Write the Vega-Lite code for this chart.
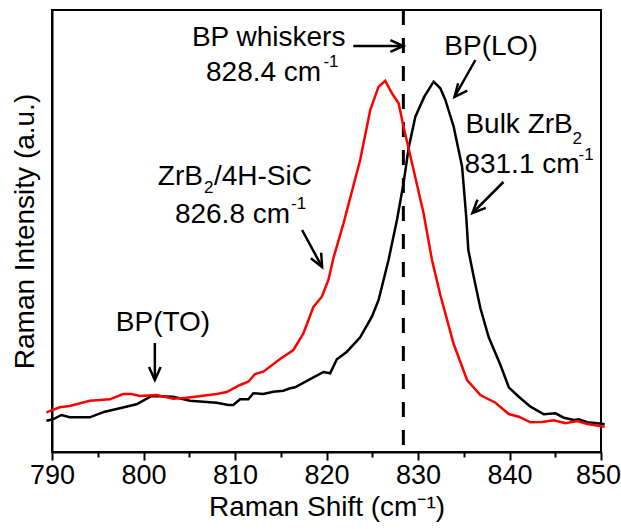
{
  "$schema": "https://vega.github.io/schema/vega-lite/v6.json",
  "width": 549,
  "height": 442,
  "autosize": "none",
  "padding": {"left": 52, "top": 10, "right": 20, "bottom": 77},
  "background": "white",
  "config": {
    "view": {"stroke": "black", "strokeWidth": 2},
    "font": "Liberation Sans"
  },
  "datasets": {
    "spectra": [
      {"shift": 789.39, "intensity": 31.3, "sample": "Bulk ZrB2"},
      {"shift": 790.11, "intensity": 32.7, "sample": "Bulk ZrB2"},
      {"shift": 791.03, "intensity": 37, "sample": "Bulk ZrB2"},
      {"shift": 791.94, "intensity": 34.7, "sample": "Bulk ZrB2"},
      {"shift": 794.13, "intensity": 34.7, "sample": "Bulk ZrB2"},
      {"shift": 795.77, "intensity": 40.3, "sample": "Bulk ZrB2"},
      {"shift": 797.41, "intensity": 43.7, "sample": "Bulk ZrB2"},
      {"shift": 799.24, "intensity": 47.7, "sample": "Bulk ZrB2"},
      {"shift": 800.88, "intensity": 56, "sample": "Bulk ZrB2"},
      {"shift": 803.25, "intensity": 55.3, "sample": "Bulk ZrB2"},
      {"shift": 805.07, "intensity": 51.3, "sample": "Bulk ZrB2"},
      {"shift": 807.99, "intensity": 49.3, "sample": "Bulk ZrB2"},
      {"shift": 809.27, "intensity": 47, "sample": "Bulk ZrB2"},
      {"shift": 809.81, "intensity": 47, "sample": "Bulk ZrB2"},
      {"shift": 810.55, "intensity": 52.7, "sample": "Bulk ZrB2"},
      {"shift": 811.46, "intensity": 52.7, "sample": "Bulk ZrB2"},
      {"shift": 812.0, "intensity": 58.7, "sample": "Bulk ZrB2"},
      {"shift": 813.1, "intensity": 58, "sample": "Bulk ZrB2"},
      {"shift": 814.19, "intensity": 60.3, "sample": "Bulk ZrB2"},
      {"shift": 815.29, "intensity": 61.3, "sample": "Bulk ZrB2"},
      {"shift": 816.02, "intensity": 63.7, "sample": "Bulk ZrB2"},
      {"shift": 816.57, "intensity": 64.7, "sample": "Bulk ZrB2"},
      {"shift": 818.57, "intensity": 74.7, "sample": "Bulk ZrB2"},
      {"shift": 819.67, "intensity": 80, "sample": "Bulk ZrB2"},
      {"shift": 820.4, "intensity": 78.7, "sample": "Bulk ZrB2"},
      {"shift": 821.13, "intensity": 92.7, "sample": "Bulk ZrB2"},
      {"shift": 822.23, "intensity": 100.3, "sample": "Bulk ZrB2"},
      {"shift": 823.68, "intensity": 114.7, "sample": "Bulk ZrB2"},
      {"shift": 824.96, "intensity": 135.3, "sample": "Bulk ZrB2"},
      {"shift": 825.69, "intensity": 152, "sample": "Bulk ZrB2"},
      {"shift": 826.42, "intensity": 178.7, "sample": "Bulk ZrB2"},
      {"shift": 826.78, "intensity": 192, "sample": "Bulk ZrB2"},
      {"shift": 827.7, "intensity": 232, "sample": "Bulk ZrB2"},
      {"shift": 828.42, "intensity": 268.7, "sample": "Bulk ZrB2"},
      {"shift": 828.97, "intensity": 303.7, "sample": "Bulk ZrB2"},
      {"shift": 829.71, "intensity": 335.3, "sample": "Bulk ZrB2"},
      {"shift": 830.69, "intensity": 355.3, "sample": "Bulk ZrB2"},
      {"shift": 831.71, "intensity": 370.3, "sample": "Bulk ZrB2"},
      {"shift": 832.44, "intensity": 363.7, "sample": "Bulk ZrB2"},
      {"shift": 832.99, "intensity": 352, "sample": "Bulk ZrB2"},
      {"shift": 833.9, "intensity": 325.3, "sample": "Bulk ZrB2"},
      {"shift": 834.82, "intensity": 285.3, "sample": "Bulk ZrB2"},
      {"shift": 835.28, "intensity": 234, "sample": "Bulk ZrB2"},
      {"shift": 835.5, "intensity": 202, "sample": "Bulk ZrB2"},
      {"shift": 836.09, "intensity": 175.3, "sample": "Bulk ZrB2"},
      {"shift": 836.82, "intensity": 143.7, "sample": "Bulk ZrB2"},
      {"shift": 837.73, "intensity": 114.7, "sample": "Bulk ZrB2"},
      {"shift": 839.01, "intensity": 87, "sample": "Bulk ZrB2"},
      {"shift": 839.92, "intensity": 64.7, "sample": "Bulk ZrB2"},
      {"shift": 841.01, "intensity": 55.3, "sample": "Bulk ZrB2"},
      {"shift": 842.29, "intensity": 45.3, "sample": "Bulk ZrB2"},
      {"shift": 843.75, "intensity": 37.7, "sample": "Bulk ZrB2"},
      {"shift": 845.03, "intensity": 38.7, "sample": "Bulk ZrB2"},
      {"shift": 845.94, "intensity": 34.3, "sample": "Bulk ZrB2"},
      {"shift": 847.03, "intensity": 32, "sample": "Bulk ZrB2"},
      {"shift": 847.58, "intensity": 32.7, "sample": "Bulk ZrB2"},
      {"shift": 848.5, "intensity": 29.7, "sample": "Bulk ZrB2"},
      {"shift": 849.6, "intensity": 28.7, "sample": "Bulk ZrB2"},
      {"shift": 850.4, "intensity": 27.7, "sample": "Bulk ZrB2"},
      {"shift": 789.39, "intensity": 39.7, "sample": "ZrB2/4H-SiC"},
      {"shift": 790.84, "intensity": 44.7, "sample": "ZrB2/4H-SiC"},
      {"shift": 791.94, "intensity": 46, "sample": "ZrB2/4H-SiC"},
      {"shift": 794.13, "intensity": 51.3, "sample": "ZrB2/4H-SiC"},
      {"shift": 796.32, "intensity": 52.7, "sample": "ZrB2/4H-SiC"},
      {"shift": 797.77, "intensity": 58, "sample": "ZrB2/4H-SiC"},
      {"shift": 798.69, "intensity": 58, "sample": "ZrB2/4H-SiC"},
      {"shift": 799.6, "intensity": 56, "sample": "ZrB2/4H-SiC"},
      {"shift": 801.43, "intensity": 57, "sample": "ZrB2/4H-SiC"},
      {"shift": 803.25, "intensity": 53.3, "sample": "ZrB2/4H-SiC"},
      {"shift": 804.71, "intensity": 54.3, "sample": "ZrB2/4H-SiC"},
      {"shift": 806.53, "intensity": 56.3, "sample": "ZrB2/4H-SiC"},
      {"shift": 807.99, "intensity": 58, "sample": "ZrB2/4H-SiC"},
      {"shift": 809.09, "intensity": 60, "sample": "ZrB2/4H-SiC"},
      {"shift": 810.55, "intensity": 67, "sample": "ZrB2/4H-SiC"},
      {"shift": 811.46, "intensity": 70.3, "sample": "ZrB2/4H-SiC"},
      {"shift": 812.19, "intensity": 78, "sample": "ZrB2/4H-SiC"},
      {"shift": 813.1, "intensity": 80.3, "sample": "ZrB2/4H-SiC"},
      {"shift": 814.93, "intensity": 93, "sample": "ZrB2/4H-SiC"},
      {"shift": 816.38, "intensity": 102, "sample": "ZrB2/4H-SiC"},
      {"shift": 817.48, "intensity": 118.7, "sample": "ZrB2/4H-SiC"},
      {"shift": 818.57, "intensity": 145, "sample": "ZrB2/4H-SiC"},
      {"shift": 819.49, "intensity": 155.3, "sample": "ZrB2/4H-SiC"},
      {"shift": 820.21, "intensity": 172, "sample": "ZrB2/4H-SiC"},
      {"shift": 820.76, "intensity": 194, "sample": "ZrB2/4H-SiC"},
      {"shift": 821.86, "intensity": 228.7, "sample": "ZrB2/4H-SiC"},
      {"shift": 823.68, "intensity": 292, "sample": "ZrB2/4H-SiC"},
      {"shift": 824.78, "intensity": 342, "sample": "ZrB2/4H-SiC"},
      {"shift": 825.69, "intensity": 365.3, "sample": "ZrB2/4H-SiC"},
      {"shift": 826.42, "intensity": 371.3, "sample": "ZrB2/4H-SiC"},
      {"shift": 827.15, "intensity": 358.7, "sample": "ZrB2/4H-SiC"},
      {"shift": 827.88, "intensity": 348.7, "sample": "ZrB2/4H-SiC"},
      {"shift": 828.42, "intensity": 325.3, "sample": "ZrB2/4H-SiC"},
      {"shift": 828.97, "intensity": 303.7, "sample": "ZrB2/4H-SiC"},
      {"shift": 829.52, "intensity": 282, "sample": "ZrB2/4H-SiC"},
      {"shift": 830.61, "intensity": 238.7, "sample": "ZrB2/4H-SiC"},
      {"shift": 831.53, "intensity": 192, "sample": "ZrB2/4H-SiC"},
      {"shift": 832.44, "intensity": 157, "sample": "ZrB2/4H-SiC"},
      {"shift": 833.9, "intensity": 108, "sample": "ZrB2/4H-SiC"},
      {"shift": 835.36, "intensity": 72, "sample": "ZrB2/4H-SiC"},
      {"shift": 836.82, "intensity": 57, "sample": "ZrB2/4H-SiC"},
      {"shift": 838.46, "intensity": 49.3, "sample": "ZrB2/4H-SiC"},
      {"shift": 839.92, "intensity": 38, "sample": "ZrB2/4H-SiC"},
      {"shift": 841.01, "intensity": 35.3, "sample": "ZrB2/4H-SiC"},
      {"shift": 842.29, "intensity": 29.7, "sample": "ZrB2/4H-SiC"},
      {"shift": 843.57, "intensity": 30, "sample": "ZrB2/4H-SiC"},
      {"shift": 844.84, "intensity": 31.7, "sample": "ZrB2/4H-SiC"},
      {"shift": 846.12, "intensity": 28.7, "sample": "ZrB2/4H-SiC"},
      {"shift": 847.4, "intensity": 31, "sample": "ZrB2/4H-SiC"},
      {"shift": 848.5, "intensity": 28, "sample": "ZrB2/4H-SiC"},
      {"shift": 850.4, "intensity": 25.3, "sample": "ZrB2/4H-SiC"}
    ],
    "marker": [{"shift": 828.4, "label": "BP whiskers"}],
    "notes": [
      {"x": 805.29, "y": 406, "label": "BP whiskers"},
      {"x": 806.83, "y": 371, "label": "828.4 cm"},
      {"x": 832.88, "y": 397, "label": "BP(LO)"},
      {"x": 835.18, "y": 319, "label": "Bulk ZrB"},
      {"x": 835.07, "y": 279, "label": "831.1 cm"},
      {"x": 801.57, "y": 267, "label": "ZrB"},
      {"x": 807.7, "y": 267, "label": "/4H-SiC"},
      {"x": 803.43, "y": 229, "label": "826.8 cm"},
      {"x": 796.97, "y": 121, "label": "BP(TO)"}
    ],
    "scripts": [
      {"x": 819.66, "y": 385, "label": "-1"},
      {"x": 846.89, "y": 308, "label": "2"},
      {"x": 847.55, "y": 292, "label": "-1"},
      {"x": 806.61, "y": 259, "label": "2"},
      {"x": 816.13, "y": 243, "label": "-1"}
    ],
    "arrows": [
      {"x1": 822.93, "y1": 406, "x2": 828.4, "y2": 406, "angle": 90},
      {"x1": 836.27, "y1": 392, "x2": 833.99, "y2": 355, "angle": 219},
      {"x1": 839.34, "y1": 270, "x2": 835.95, "y2": 239, "angle": 225},
      {"x1": 817.33, "y1": 222, "x2": 819.52, "y2": 185, "angle": 152},
      {"x1": 801.24, "y1": 109, "x2": 801.24, "y2": 72, "angle": 180}
    ]
  },
  "layer": [
    {
      "data": {"name": "marker"},
      "mark": {"type": "rule", "color": "black", "strokeWidth": 3, "strokeDash": [15, 13]},
      "encoding": {
        "x": {"field": "shift", "type": "quantitative", "scale": {"domain": [790, 850], "nice": false, "zero": false}}
      }
    },
    {
      "data": {"name": "spectra"},
      "mark": {"type": "line", "strokeWidth": 2.5, "clip": false},
      "encoding": {
        "x": {
          "field": "shift",
          "type": "quantitative",
          "scale": {"domain": [790, 850], "nice": false, "zero": false},
          "axis": {
            "title": "Raman Shift (cm⁻¹)",
            "values": [790, 795, 800, 805, 810, 815, 820, 825, 830, 835, 840, 845, 850],
            "labelExpr": "datum.value % 10 === 0 ? datum.label : ''",
            "tickSize": {"condition": {"test": "datum.value % 10 === 0", "value": 8}, "value": 5},
            "labelOffset": {"condition": {"test": "datum.value === 850", "value": -3}, "value": 0},
            "tickWidth": 2,
            "tickColor": "black",
            "domainColor": "black",
            "domainWidth": 2,
            "labelFontSize": 27,
            "labelColor": "black",
            "labelPadding": 2,
            "labelFlush": false,
            "labelOverlap": false,
            "titleFontSize": 28,
            "titleFontWeight": "normal",
            "titleColor": "black",
            "titlePadding": 5,
            "grid": false
          }
        },
        "y": {
          "field": "intensity",
          "type": "quantitative",
          "scale": {"domain": [0, 442], "nice": false},
          "axis": {
            "title": "Raman Intensity (a.u.)",
            "ticks": false,
            "labels": false,
            "grid": false,
            "domainColor": "black",
            "domainWidth": 2,
            "titleFontSize": 28,
            "titleFontWeight": "normal",
            "titleColor": "black",
            "titlePadding": 13
          }
        },
        "color": {
          "field": "sample",
          "type": "nominal",
          "scale": {"domain": ["Bulk ZrB2", "ZrB2/4H-SiC"], "range": ["#000000", "#ff0000"]},
          "legend": null
        },
        "order": {"field": "shift", "type": "quantitative"}
      }
    },
    {
      "data": {"name": "arrows"},
      "mark": {"type": "rule", "color": "black", "strokeWidth": 2.5},
      "encoding": {
        "x": {"field": "x1", "type": "quantitative"},
        "y": {"field": "y1", "type": "quantitative"},
        "x2": {"field": "x2"},
        "y2": {"field": "y2"}
      }
    },
    {
      "data": {"name": "arrows"},
      "mark": {"type": "point", "shape": "M-0.45,1L0,0L0.45,1", "filled": false, "stroke": "black", "strokeWidth": 2.5, "size": 676, "opacity": 1},
      "encoding": {
        "x": {"field": "x2", "type": "quantitative"},
        "y": {"field": "y2", "type": "quantitative"},
        "angle": {"field": "angle", "type": "quantitative", "scale": null}
      }
    },
    {
      "data": {"name": "notes"},
      "mark": {"type": "text", "align": "left", "baseline": "alphabetic", "fontSize": 28, "color": "black"},
      "encoding": {
        "x": {"field": "x", "type": "quantitative"},
        "y": {"field": "y", "type": "quantitative"},
        "text": {"field": "label"}
      }
    },
    {
      "data": {"name": "scripts"},
      "mark": {"type": "text", "align": "left", "baseline": "alphabetic", "fontSize": 17, "color": "black"},
      "encoding": {
        "x": {"field": "x", "type": "quantitative"},
        "y": {"field": "y", "type": "quantitative"},
        "text": {"field": "label"}
      }
    }
  ]
}
